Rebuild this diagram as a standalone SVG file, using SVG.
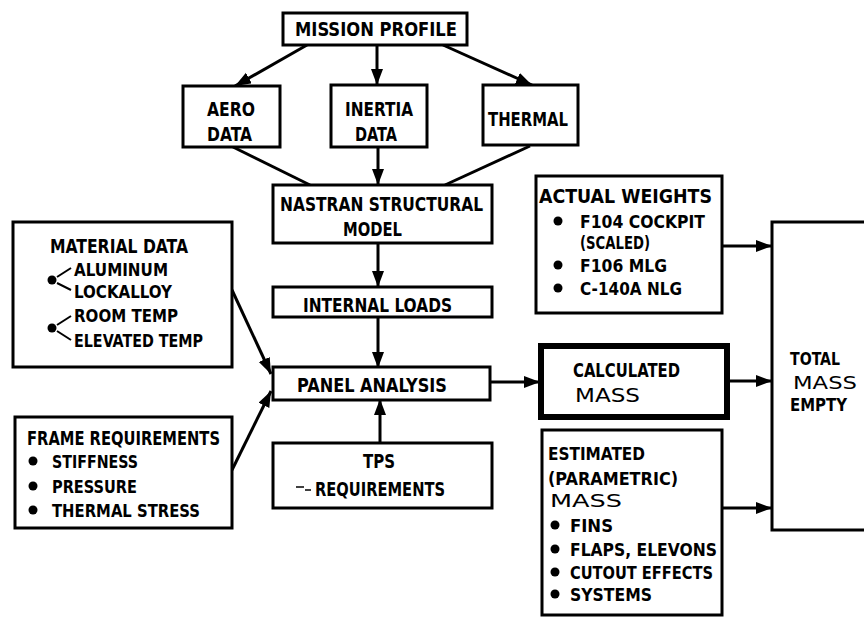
<svg xmlns="http://www.w3.org/2000/svg" width="864" height="618" viewBox="0 0 864 618">
<defs>
<style>
.b{fill:#fff;stroke:#000;stroke-width:3}
.thick{fill:#fff;stroke:#000;stroke-width:6}
text{font-family:"DejaVu Sans Condensed","DejaVu Sans","Liberation Sans",sans-serif;font-weight:bold;font-size:20px;fill:#000}
text.s{font-size:18px}
.c line{stroke:#000;stroke-width:3;fill:none}
.a{marker-end:url(#ah)}
</style>
<marker id="ah" markerUnits="userSpaceOnUse" markerWidth="18" markerHeight="14" refX="16" refY="6" orient="auto">
<path d="M0,0 L16,6 L0,12 z" fill="#000"/>
</marker>
</defs>
<rect width="864" height="618" fill="#fff"/>

<g class="c" id="connectors">
<line class="a" x1="307" y1="45" x2="235" y2="86"/>
<line class="a" x1="377" y1="45" x2="377" y2="85"/>
<line class="a" x1="443" y1="45" x2="532" y2="85"/>
<line x1="233" y1="147" x2="310" y2="185"/>
<line x1="530" y1="146" x2="445" y2="185"/>
<line class="a" x1="378" y1="147" x2="378" y2="185"/>
<line class="a" x1="378" y1="243" x2="378" y2="287"/>
<line class="a" x1="378" y1="317" x2="378" y2="368"/>
<line class="a" x1="380" y1="443" x2="380" y2="399"/>
<line class="a" x1="232" y1="290" x2="271" y2="374"/>
<line class="a" x1="232" y1="470" x2="271" y2="391"/>
<line class="a" x1="490" y1="382" x2="540" y2="382"/>
<line class="a" x1="727" y1="381" x2="772" y2="381"/>
<line class="a" x1="722" y1="246" x2="772" y2="246"/>
<line class="a" x1="722" y1="508" x2="772" y2="508"/>
</g>

<g id="mission-profile">
<rect class="b" x="283" y="13" width="184" height="32"/>
<text x="295" y="36" textLength="162" lengthAdjust="spacingAndGlyphs">MISSION PROFILE</text>
</g>

<g id="aero-data">
<rect class="b" x="183" y="86" width="97" height="61"/>
<text x="207" y="116" textLength="48" lengthAdjust="spacingAndGlyphs">AERO</text>
<text x="207" y="141" textLength="45" lengthAdjust="spacingAndGlyphs">DATA</text>
</g>

<g id="inertia-data">
<rect class="b" x="331" y="85" width="96" height="62"/>
<text x="345" y="116" textLength="68" lengthAdjust="spacingAndGlyphs">INERTIA</text>
<text x="355" y="141" textLength="42" lengthAdjust="spacingAndGlyphs">DATA</text>
</g>

<g id="thermal">
<rect class="b" x="483" y="85" width="95" height="60"/>
<text x="488" y="126" textLength="80" lengthAdjust="spacingAndGlyphs">THERMAL</text>
</g>

<g id="nastran">
<rect class="b" x="273" y="185" width="219" height="58"/>
<text x="280" y="211" textLength="203" lengthAdjust="spacingAndGlyphs">NASTRAN STRUCTURAL</text>
<text x="343" y="236" textLength="59" lengthAdjust="spacingAndGlyphs">MODEL</text>
</g>

<g id="internal-loads">
<rect class="b" x="273" y="287" width="219" height="30"/>
<text x="303" y="312" textLength="149" lengthAdjust="spacingAndGlyphs">INTERNAL LOADS</text>
</g>

<g id="panel-analysis">
<rect class="b" x="273" y="367" width="217" height="33"/>
<text x="297" y="392" textLength="150" lengthAdjust="spacingAndGlyphs">PANEL ANALYSIS</text>
</g>

<g id="tps-requirements">
<rect class="b" x="273" y="443" width="219" height="65"/>
<text x="363" y="468" textLength="32" lengthAdjust="spacingAndGlyphs">TPS</text>
<line x1="296" y1="487" x2="304" y2="487" stroke="#000" stroke-width="1.5"/>
<line x1="305" y1="490" x2="311" y2="490" stroke="#000" stroke-width="1.5"/>
<text x="315" y="496" textLength="130" lengthAdjust="spacingAndGlyphs">REQUIREMENTS</text>
</g>

<g id="material-data">
<rect class="b" x="13" y="222" width="219" height="145"/>
<text x="50" y="253" textLength="138" lengthAdjust="spacingAndGlyphs">MATERIAL DATA</text>
<circle cx="52" cy="280" r="4.5"/>
<line x1="57" y1="277" x2="71" y2="268" stroke="#000" stroke-width="2"/>
<line x1="57" y1="283" x2="71" y2="290" stroke="#000" stroke-width="2"/>
<text class="s" x="74" y="276" textLength="94" lengthAdjust="spacingAndGlyphs">ALUMINUM</text>
<text class="s" x="74" y="298" textLength="98" lengthAdjust="spacingAndGlyphs">LOCKALLOY</text>
<circle cx="52" cy="328" r="4.5"/>
<line x1="57" y1="325" x2="71" y2="316" stroke="#000" stroke-width="2"/>
<line x1="57" y1="331" x2="71" y2="340" stroke="#000" stroke-width="2"/>
<text class="s" x="74" y="322" textLength="104" lengthAdjust="spacingAndGlyphs">ROOM TEMP</text>
<text class="s" x="74" y="347" textLength="129" lengthAdjust="spacingAndGlyphs">ELEVATED TEMP</text>
</g>

<g id="frame-requirements">
<rect class="b" x="15" y="417" width="217" height="111"/>
<text x="27" y="445" textLength="193" lengthAdjust="spacingAndGlyphs">FRAME REQUIREMENTS</text>
<circle cx="33" cy="461" r="4.5"/>
<text class="s" x="52" y="468" textLength="86" lengthAdjust="spacingAndGlyphs">STIFFNESS</text>
<circle cx="33" cy="486" r="4.5"/>
<text class="s" x="52" y="493" textLength="85" lengthAdjust="spacingAndGlyphs">PRESSURE</text>
<circle cx="33" cy="510" r="4.5"/>
<text class="s" x="52" y="517" textLength="148" lengthAdjust="spacingAndGlyphs">THERMAL STRESS</text>
</g>

<g id="actual-weights">
<rect class="b" x="536" y="176" width="186" height="137"/>
<text x="539" y="203" textLength="173" lengthAdjust="spacingAndGlyphs">ACTUAL WEIGHTS</text>
<circle cx="558" cy="221" r="4.5"/>
<text class="s" x="580" y="228" textLength="125" lengthAdjust="spacingAndGlyphs">F104 COCKPIT</text>
<text class="s" x="580" y="249" textLength="70" lengthAdjust="spacingAndGlyphs">(SCALED)</text>
<circle cx="558" cy="265" r="4.5"/>
<text class="s" x="580" y="272" textLength="87" lengthAdjust="spacingAndGlyphs">F106 MLG</text>
<circle cx="558" cy="288" r="4.5"/>
<text class="s" x="580" y="295" textLength="102" lengthAdjust="spacingAndGlyphs">C-140A NLG</text>
</g>

<g id="calculated-mass">
<rect class="thick" x="541" y="346" width="186" height="71"/>
<text x="573" y="377" textLength="107" lengthAdjust="spacingAndGlyphs">CALCULATED</text>
<text x="575" y="402" textLength="65" lengthAdjust="spacingAndGlyphs" style="font-weight:normal">MASS</text>
</g>

<g id="estimated-mass">
<rect class="b" x="542" y="430" width="180" height="185"/>
<text class="s" x="548" y="460" textLength="97" lengthAdjust="spacingAndGlyphs">ESTIMATED</text>
<text class="s" x="548" y="485" textLength="130" lengthAdjust="spacingAndGlyphs">(PARAMETRIC)</text>
<text class="s" x="550" y="507" textLength="72" lengthAdjust="spacingAndGlyphs" style="font-weight:normal">MASS</text>
<circle cx="555" cy="525" r="4.5"/>
<text class="s" x="570" y="532" textLength="43" lengthAdjust="spacingAndGlyphs">FINS</text>
<circle cx="555" cy="549" r="4.5"/>
<text class="s" x="570" y="556" textLength="147" lengthAdjust="spacingAndGlyphs">FLAPS, ELEVONS</text>
<circle cx="555" cy="572" r="4.5"/>
<text class="s" x="570" y="579" textLength="143" lengthAdjust="spacingAndGlyphs">CUTOUT EFFECTS</text>
<circle cx="555" cy="594" r="4.5"/>
<text class="s" x="570" y="601" textLength="82" lengthAdjust="spacingAndGlyphs">SYSTEMS</text>
</g>

<g id="total-mass-empty">
<rect class="b" x="772" y="222" width="100" height="308"/>
<text class="s" x="790" y="365" textLength="50" lengthAdjust="spacingAndGlyphs">TOTAL</text>
<text class="s" x="793" y="389" textLength="64" lengthAdjust="spacingAndGlyphs" style="font-weight:normal">MASS</text>
<text class="s" x="790" y="411" textLength="57" lengthAdjust="spacingAndGlyphs">EMPTY</text>
</g>
</svg>
